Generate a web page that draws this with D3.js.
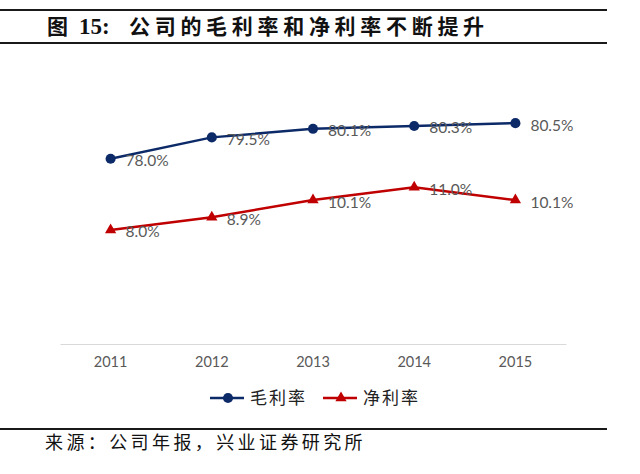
<!DOCTYPE html>
<html>
<head>
<meta charset="utf-8">
<script src="https://cdn.jsdelivr.net/npm/d3@7"></script>
<style>
  html, body { margin: 0; padding: 0; background: #fff; }
  svg { display: block; }
</style>
</head>
<body>
<svg id="chart" width="640" height="474"></svg>
<script>
const years = ["2011", "2012", "2013", "2014", "2015"];
const grossMargin = [78.0, 79.5, 80.1, 80.3, 80.5];
const netMargin = [8.0, 8.9, 10.1, 11.0, 10.1];
const seriesNames = ["毛利率", "净利率"];
const grossDomain = [65, 85];
const netDomain = [0, 20];

const svg = d3.select("#chart");
const blue = "#0c2a68";
const red = "#c00000";
const labelColor = "#595959";
const cjk = "'Noto Sans CJK SC', sans-serif";
const latin = "Lato, 'Open Sans', sans-serif";

// frame lines
[10, 43, 429].forEach(y => {
  svg.append("line").attr("x1", 0).attr("x2", 607).attr("y1", y).attr("y2", y)
    .attr("stroke", "#1a1a1a").attr("stroke-width", 2);
});

// title
const title = svg.append("text").attr("x", 47).attr("y", 34)
  .attr("font-size", 21).attr("font-weight", "bold").attr("fill", "#111");
title.append("tspan").attr("font-family", cjk).text("图");
title.append("tspan").attr("x", 79).attr("font-family", "'Liberation Serif', serif").attr("font-size", 23).text("15:");
title.append("tspan").attr("x", 129).attr("font-family", cjk).attr("letter-spacing", 4.7).text("公司的毛利率和净利率不断提升");

// source
svg.append("text").attr("x", 45).attr("y", 449)
  .attr("font-family", cjk).attr("font-size", 18).attr("letter-spacing", 3.4)
  .attr("fill", "#111").text("来源：公司年报，兴业证券研究所");

// scales
const x = d3.scaleBand().domain(years).range([60, 566]);
const yG = d3.scaleLinear().domain(grossDomain).range([344, 59]);
const yN = d3.scaleLinear().domain(netDomain).range([344, 59]);
const cx = d => x(d) + x.bandwidth() / 2;

// x axis
const xAxis = svg.append("g").attr("transform", "translate(0,344)")
  .call(d3.axisBottom(x).tickSize(0).tickPadding(13));
xAxis.select(".domain").attr("stroke", "#d9d9d9").attr("stroke-width", 1.2);
xAxis.selectAll("text").attr("font-family", latin).attr("font-size", 14.5).attr("fill", labelColor);

const series = [
  { name: seriesNames[0], values: grossMargin, y: yG, color: blue, symbol: d3.symbolCircle, size: 80 },
  { name: seriesNames[1], values: netMargin, y: yN, color: red, symbol: d3.symbolTriangle, size: 55 }
];

series.forEach(s => {
  const pts = years.map((yr, i) => [cx(yr), s.y(s.values[i])]);
  svg.append("path").attr("d", d3.line()(pts)).attr("fill", "none")
    .attr("stroke", s.color).attr("stroke-width", 2.5);
  svg.append("g").selectAll("path").data(pts).join("path")
    .attr("transform", d => `translate(${d[0]},${d[1]})`)
    .attr("d", d3.symbol().type(s.symbol).size(s.size))
    .attr("fill", s.color);
  svg.append("g").selectAll("text").data(years).join("text")
    .attr("x", (d, i) => pts[i][0] + 15)
    .attr("y", (d, i) => pts[i][1] + 2)
    .attr("dy", "0.35em")
    .attr("font-family", latin).attr("font-size", 15.5).attr("fill", labelColor)
    .text((d, i) => s.values[i].toFixed(1) + "%");
});

// legend
const legend = [
  { x: 210, s: series[0] },
  { x: 323, s: series[1] }
];
legend.forEach(l => {
  const g = svg.append("g").attr("transform", `translate(${l.x},398)`);
  g.append("line").attr("x1", 0).attr("x2", 34).attr("stroke", l.s.color).attr("stroke-width", 2.5);
  g.append("path").attr("transform", "translate(18,0)")
    .attr("d", d3.symbol().type(l.s.symbol).size(l.s.size)).attr("fill", l.s.color);
  g.append("text").attr("x", 40).attr("dy", "0.36em")
    .attr("font-family", cjk).attr("font-size", 17).attr("letter-spacing", 2)
    .attr("fill", "#222").text(l.s.name);
});
</script>
</body>
</html>
